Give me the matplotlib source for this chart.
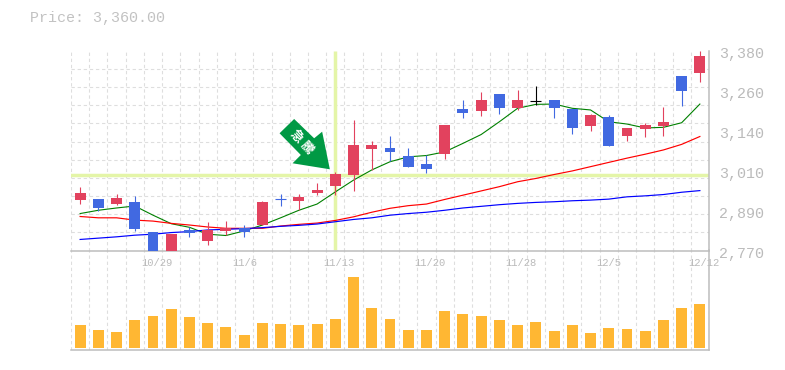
import numpy as np
import matplotlib
matplotlib.use("Agg")
import matplotlib.pyplot as plt
from matplotlib.patches import Polygon
from matplotlib.transforms import Affine2D, ScaledTranslation

opens  = [2924,2927,2912,2918,2827,2760,2833,2799,2830,2839,2848,2927,2921,2946,2967,3000,3080,3083,3058,3034,3064,3202,3196,3248,3205,3226,3229,3202,3150,3177,3120,3141,3150,3302,3312]
closes = [2946,2900,2930,2836,2745,2820,2824,2832,2839,2827,2918,2927,2933,2955,3004,3092,3092,3070,3025,3019,3153,3190,3229,3205,3229,3226,3205,3144,3183,3089,3144,3153,3162,3257,3363]
highs  = [2964,2927,2943,2936,2827,2820,2842,2857,2860,2848,2921,2943,2943,2976,3010,3168,3104,3120,3083,3061,3153,3229,3254,3248,3260,3272,3229,3202,3186,3183,3144,3159,3208,3302,3379]
lows   = [2912,2892,2909,2830,2745,2760,2811,2787,2817,2811,2848,2906,2894,2939,2939,2952,3016,3043,3025,3007,3049,3174,3180,3186,3199,3214,3174,3126,3135,3089,3104,3116,3120,3211,3284]
ma_short = [2883,2893,2900,2906,2878,2852,2841,2820,2816,2830,2848,2870,2893,2912,2949,2985,3016,3041,3056,3060,3071,3097,3124,3163,3204,3216,3217,3204,3199,3163,3156,3144,3146,3160,3217]
ma_mid   = [2874,2870,2870,2863,2860,2853,2848,2842,2838,2838,2838,2845,2850,2854,2862,2873,2887,2899,2907,2912,2926,2939,2952,2965,2980,2990,3002,3013,3026,3039,3052,3064,3077,3094,3118]
ma_long  = [2804,2808,2812,2817,2820,2825,2828,2833,2835,2837,2840,2844,2847,2851,2858,2865,2870,2878,2883,2887,2893,2900,2905,2910,2914,2917,2919,2922,2924,2927,2934,2937,2941,2948,2953]
volume   = [69,54,48,84,96,117,93,75,63,39,75,72,69,72,87,213,120,87,54,54,111,102,96,84,69,78,51,69,45,60,57,51,84,120,132]
date_labels = ["10/29","11/6","11/13","11/20","11/28","12/5","12/12"]
date_index  = [4,9,14,19,24,29,34]
price_labels = ["2,770","2,890","3,010","3,140","3,260","3,380"]
price_ticks  = [2770,2892,3014,3136,3258,3380]
title = "Price: 3,360.00"
mark_index, mark_price = 14, 3000
badge_text = "急 騰"

UP, DOWN, DOJI = "#E2425E", "#4169E1", "#000000"
GRID, AXC, TXT = "#DEDEDE", "#BDBDBD", "#BBBBBB"
HL, VOLC, ARROW = "#E4F5A8", "#FFB733", "#009944"
W, H = 785, 370
fig = plt.figure(figsize=(W/100, H/100), dpi=100, facecolor="white")
mono = "Liberation Mono"
def rect(l, t, r, b):
    return [l/W, (H-b)/H, (r-l)/W, (b-t)/H]

axv = fig.add_axes(rect(71, 250, 709, 350))
ax = fig.add_axes(rect(71, 50.6, 709, 250.6))
x = np.arange(len(opens))
xgrid = np.arange(-0.5, len(opens), 1.0)
for a in (ax, axv):
    a.set_xlim(-0.5, len(opens)-0.5)
    a.set_xticks(xgrid, minor=True)
    a.grid(True, which="minor", axis="x", color=GRID, lw=0.8, ls=(0, (3, 2.5)))
    a.set_axisbelow(True)
    a.tick_params(which="both", length=0)
    for s in a.spines.values():
        s.set_visible(False)
    a.spines["right"].set_visible(True)
    a.spines["bottom"].set_visible(True)
    a.spines["right"].set_color(AXC)
    a.spines["bottom"].set_color(AXC)
    a.spines["right"].set_linewidth(1.1)
    a.spines["bottom"].set_linewidth(1.1)

# price panel
ax.set_ylim(2770, 3380)
ax.set_yticks(np.linspace(2770, 3380, 12), minor=True)
ax.grid(True, which="minor", axis="y", color=GRID, lw=0.8, ls=(0, (3, 2.5)))
ax.patch.set_alpha(0)
ax.axhline(mark_price, color=HL, lw=2.5, zorder=1.5)
ax.vlines(mark_index, 2773, 3380, color=HL, lw=2.5, zorder=1.5)
ax.plot(x, ma_short, color="#008000", lw=0.8, zorder=2)
ax.plot(x, ma_mid, color="#FF0000", lw=0.85, zorder=2)
ax.plot(x, ma_long, color="#0000FF", lw=0.85, zorder=2)
cols = [DOJI if o == c and i == 25 else (UP if c > o else DOWN)
        for i, (o, c) in enumerate(zip(opens, closes))]
ax.vlines(x, lows, highs, colors=cols, lw=0.8, zorder=3)
o = np.array(opens); c = np.array(closes)
ax.bar(x, np.abs(c-o), bottom=np.minimum(o, c), width=0.6, color=cols, lw=0, zorder=3)
ax.hlines(o[o == c], x[o == c]-0.3, x[o == c]+0.3,
          colors=[cols[i] for i in x[o == c]], lw=0.8, zorder=3)

ax.yaxis.tick_right()
ax.set_yticks(price_ticks, price_labels)
ax.tick_params(axis="y", which="major", pad=7.1)
for t in ax.get_yticklabels():
    t.set_fontfamily(mono); t.set_fontsize(10.8); t.set_color(TXT)
    t.set_transform(t.get_transform() + ScaledTranslation(0, -1.5/100, fig.dpi_scale_trans))
ax.set_xticks(date_index, date_labels)
ax.tick_params(axis="x", which="major", pad=5.5)
for t in ax.get_xticklabels():
    t.set_fontfamily(mono); t.set_fontsize(7.6); t.set_color(TXT); t.set_ha("left")
    t.set_transform(t.get_transform() + ScaledTranslation(-12/100, 0, fig.dpi_scale_trans))

# volume panel
axv.bar(x, volume, width=0.6, color=VOLC, lw=0, zorder=3)
axv.set_ylim(-6, 294)
axv.set_yticks([])
axv.set_xticks([])

fig.text(30/W, 1-18/H, title, fontfamily=mono, fontsize=10.8, color="#C2C2C2", va="center", ha="left")

# arrow badge, anchored next to the marked candle
tip = ax.transData.transform((mark_index-0.3, 3018))
shape = np.array([[-35.7,-50.3],[-15.7,-31],[-7.7,-37.6],[0,0],[-37.3,-6],[-29,-14.3],[-50.3,-36]])
place = Affine2D().scale(1, -1).translate(*tip)
fig.add_artist(Polygon(shape, closed=True, facecolor=ARROW, edgecolor="none", transform=place, zorder=5))
cx, cy = place.transform((-28, -27)) / np.array([W, H])
fig.text(cx, cy, badge_text, rotation=-47, rotation_mode="anchor", color="white",
         fontsize=9, fontweight="bold", fontfamily="Noto Sans CJK JP", ha="center", va="center", zorder=6)

fig.savefig("out.png", dpi=100, facecolor="white")
